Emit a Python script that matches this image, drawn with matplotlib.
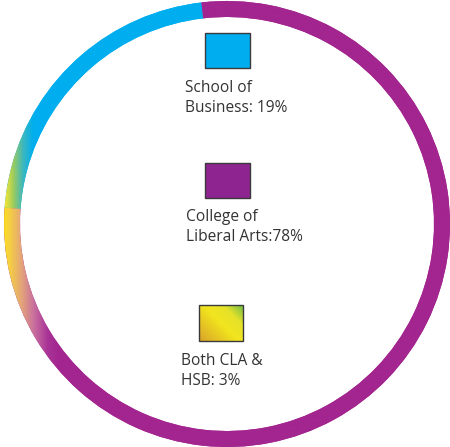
import numpy as np
import matplotlib
matplotlib.use('Agg')
import matplotlib.pyplot as plt
from matplotlib.colors import LinearSegmentedColormap, Normalize
from matplotlib.patches import Rectangle

# ---- data ----
categories = ['School of Business', 'Both CLA & HSB', 'College of Liberal Arts']
shares = [19, 3, 78]
legend_text = ['School of\nBusiness: 19%', 'College of\nLiberal Arts:78%', 'Both CLA &\nHSB: 3%']
legend_order = [0, 2, 1]  # top to bottom: business, liberal arts, both

blue = '#00AEEF'
purple = '#A3258F'
purple_box = '#8E2490'

plt.rcParams['font.family'] = ['Open Sans', 'DejaVu Sans']

fig = plt.figure(figsize=(4.5, 4.47), dpi=100)
ax = fig.add_axes([0, 0, 1, 1])
ax.set_xlim(0, 450)
ax.set_ylim(0, 447)

# ring
wedges, _ = ax.pie(shares, colors=[blue, blue, purple], startangle=96.6,
                   counterclock=True, center=(227, 223), radius=223,
                   wedgeprops=dict(width=16, linewidth=0, edgecolor='none'))
ax.set_aspect('equal')
ax.axis('off')

# horizontal colour fade on the left side of the ring
xs = np.linspace(0, 450, 901)
norm = Normalize(0, 60, clip=True)
cm_blue = LinearSegmentedColormap.from_list('b', [
    (0.0, '#FFE600'), (0.1, '#E8E23A'), (0.22, '#9CCB5E'), (0.38, '#3DB8BE'),
    (0.55, blue), (1.0, blue)])
cm_purple = LinearSegmentedColormap.from_list('p', [
    (0.0, '#FFE800'), (0.15, '#F6D040'), (0.35, '#E4A678'), (0.56, '#C9709E'),
    (0.8, '#A83296'), (1.0, purple)])
for w, cm in zip(wedges, [cm_blue, cm_blue, cm_purple]):
    img = cm(norm(xs))[np.newaxis, :, :]
    im = ax.imshow(img, extent=(0, 450, 0, 447), origin='lower',
                   interpolation='bilinear', aspect='auto', zorder=2)
    im.set_clip_path(w)

# legend boxes
box_pos = [(205, 379, 45, 35), (205, 249, 45, 35), (199, 106, 44, 36)]
text_pos = [(185, 367), (186, 238), (181, 94)]
box_colors = [blue, purple_box, None]
cm_both = LinearSegmentedColormap.from_list('y', [
    (0.0, '#D9A22A'), (0.5, '#F2E51E'), (0.75, '#E6E22A'), (1.0, '#72BE45')])

for i in range(3):
    k = legend_order[i]
    x0, y0, bw, bh = box_pos[i]
    if box_colors[i] is not None:
        ax.add_patch(Rectangle((x0, y0), bw, bh, facecolor=box_colors[i],
                               edgecolor='#3a3a3a', lw=1, zorder=3))
    else:
        u, v = np.meshgrid(np.linspace(0, 1, 60), np.linspace(0, 1, 60))
        t = (u * 0.55 + v * 0.45)
        ax.imshow(cm_both(t), extent=(x0, x0 + bw, y0, y0 + bh), origin='lower',
                  interpolation='bilinear', aspect='auto', zorder=3)
        ax.add_patch(Rectangle((x0, y0), bw, bh, facecolor='none',
                               edgecolor='#3a3a3a', lw=1, zorder=4))
    tx, ty = text_pos[i]
    ax.text(tx, ty, legend_text[i], fontsize=11.2, color='#333333', ha='left',
            va='top', linespacing=1.32, zorder=5)

ax.set_xlim(0, 450)
ax.set_ylim(0, 447)
fig.savefig('out.png', dpi=100, facecolor='white')
